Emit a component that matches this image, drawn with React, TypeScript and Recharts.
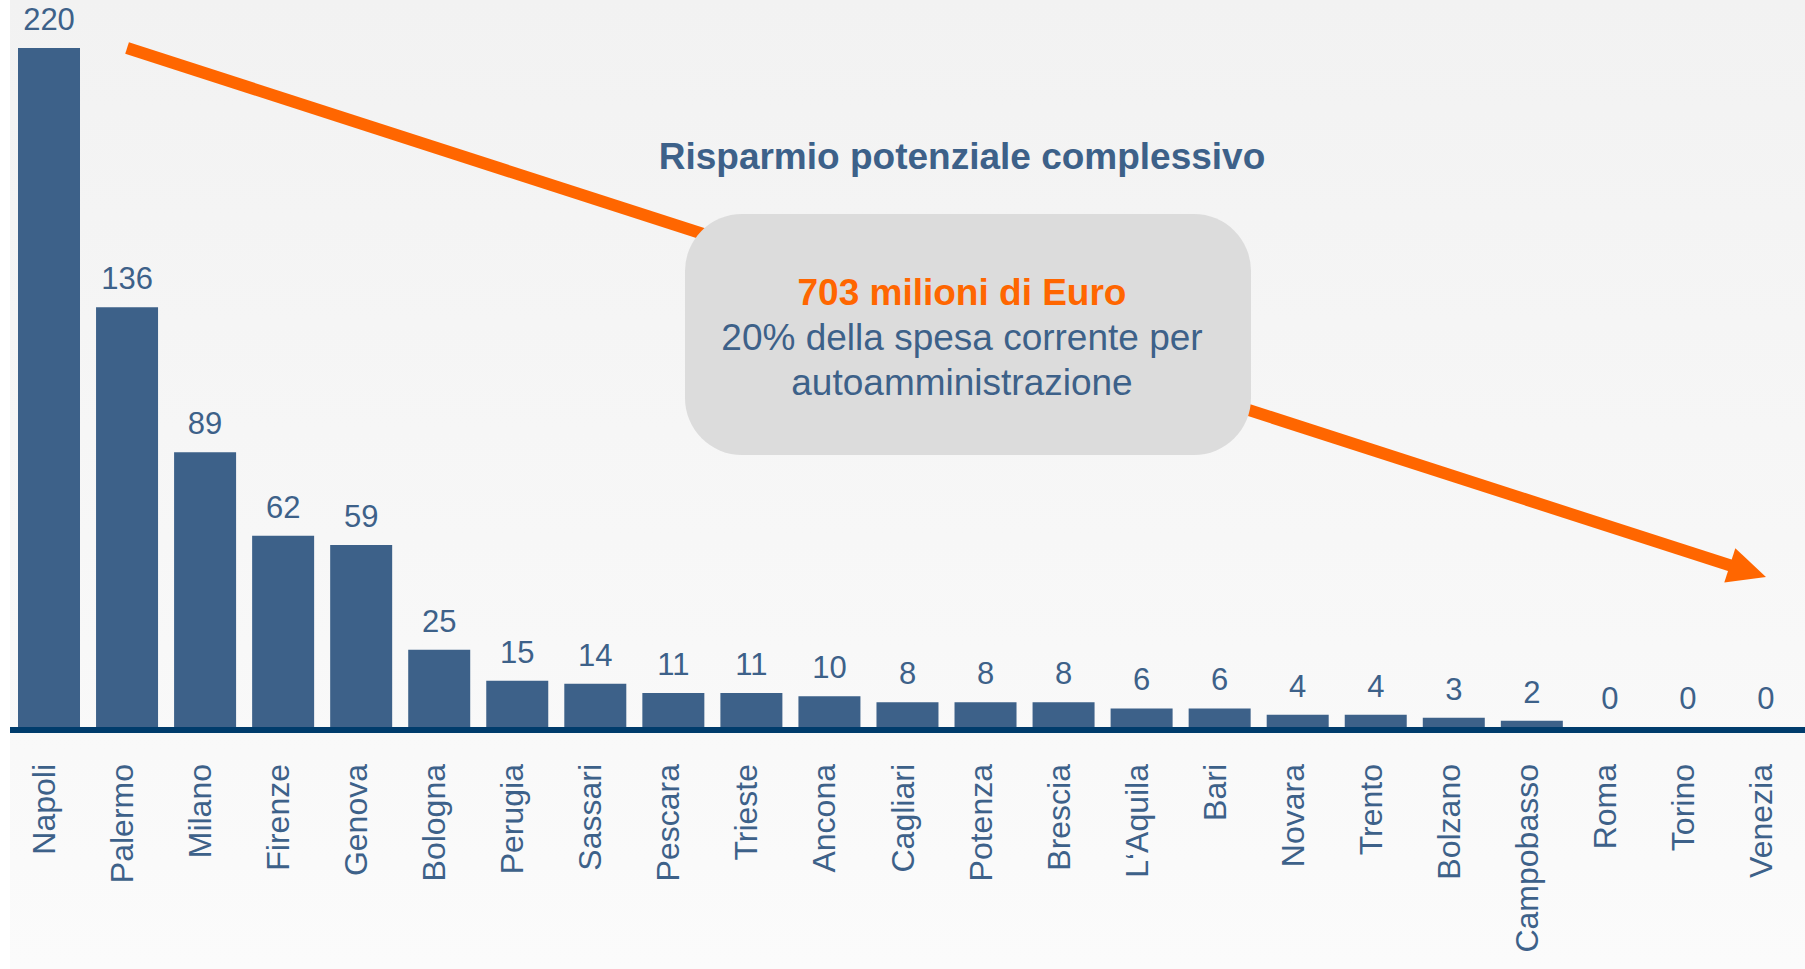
import { ComposedChart, Bar, Line, XAxis, YAxis, LabelList, ReferenceLine } from 'recharts';

const cities = [
  'Napoli', 'Palermo', 'Milano', 'Firenze', 'Genova', 'Bologna', 'Perugia', 'Sassari',
  'Pescara', 'Trieste', 'Ancona', 'Cagliari', 'Potenza', 'Brescia', 'L\u2018Aquila', 'Bari',
  'Novara', 'Trento', 'Bolzano', 'Campobasso', 'Roma', 'Torino', 'Venezia',
];
const savings = [220, 136, 89, 62, 59, 25, 15, 14, 11, 11, 10, 8, 8, 8, 6, 6, 4, 4, 3, 2, 0, 0, 0];

const title = 'Risparmio potenziale complessivo';
const totalLabel = '703 milioni di Euro';
const noteLines = ['20% della spesa corrente per', 'autoamministrazione'];

// arrow runs from the top of the scale down to the last city
const arrowFrom = { x: 'Palermo', y: 220 };
const arrowTo = { x: 'Venezia', y: 48.6 };

const data = cities.map((city, i) => ({ city, value: savings[i] }));

const blue = '#3d6189';
const navy = '#003c6c';
const orange = '#ff6600';
const font = '"Liberation Sans", Arial, sans-serif';

function CityTick({ x, y, payload }: any) {
  return (
    <text
      x={x + 6}
      y={y + 37}
      transform={`rotate(-90, ${x + 6}, ${y + 37})`}
      textAnchor="end"
      fill={blue}
      fontSize={32}
      fontFamily={font}
    >
      {payload.value}
    </text>
  );
}

function Arrow(props: any) {
  const { x1, y1, x2, y2 } = props;
  const dx = x2 - x1;
  const dy = y2 - y1;
  const len = Math.sqrt(dx * dx + dy * dy);
  const ux = dx / len;
  const uy = dy / len;
  const headLen = 38;
  const half = 18;
  const bx = x2 - ux * headLen;
  const by = y2 - uy * headLen;
  const pts = `${x2},${y2} ${bx - uy * half},${by + ux * half} ${bx + uy * half},${by - ux * half}`;
  return (
    <g>
      <line x1={x1} y1={y1} x2={bx + ux * 4} y2={by + uy * 4} stroke={orange} strokeWidth={12} />
      <polygon points={pts} fill={orange} />
    </g>
  );
}

export default function App() {
  return (
    <div
      style={{
        position: 'absolute',
        left: 0,
        top: 0,
        width: 1805,
        height: 969,
        background: '#ffffff',
        fontFamily: font,
      }}
    >
      <div
        style={{
          position: 'absolute',
          left: 10,
          top: 0,
          width: 1795,
          height: 969,
          background: 'linear-gradient(#f2f2f2, #fbfbfb)',
        }}
      />
      <div style={{ position: 'absolute', left: 0, top: 0 }}>
        <ComposedChart
          width={1805}
          height={969}
          data={data}
          margin={{ top: 48, right: 0, left: 10, bottom: 12 }}
        >
          <XAxis
            dataKey="city"
            interval={0}
            height={230}
            tickLine={false}
            tickSize={0}
            tickMargin={0}
            axisLine={{ stroke: navy, strokeWidth: 6, transform: 'translate(0,3)' }}
            tick={<CityTick />}
          />
          <YAxis hide domain={[0, 220]} />
          <ReferenceLine
            segment={[arrowFrom, arrowTo]}
            ifOverflow="visible"
            shape={(p: any) => <Arrow {...p} />}
          />
          <Bar dataKey="value" fill={blue} barSize={62} isAnimationActive={false} />
          {/* invisible series that carries the value labels, so zeros get one too */}
          <Line
            dataKey="value"
            stroke="none"
            dot={false}
            activeDot={false}
            legendType="none"
            isAnimationActive={false}
          >
            <LabelList
              dataKey="value"
              position="top"
              offset={18}
              fill={blue}
              fontSize={31}
              fontFamily={font}
            />
          </Line>
        </ComposedChart>
      </div>
      <div
        style={{
          position: 'absolute',
          left: 600,
          top: 134,
          width: 724,
          textAlign: 'center',
          color: blue,
          fontWeight: 'bold',
          fontSize: 37,
          lineHeight: '46px',
        }}
      >
        {title}
      </div>
      <div
        style={{
          position: 'absolute',
          left: 685,
          top: 214,
          width: 566,
          height: 241,
          borderRadius: 57,
          background: '#dcdcdc',
          display: 'flex',
          flexDirection: 'column',
          justifyContent: 'center',
          alignItems: 'center',
          boxSizing: 'border-box',
          paddingTop: 5,
          paddingRight: 12,
          fontSize: 37,
          lineHeight: '45px',
          color: blue,
          textAlign: 'center',
        }}
      >
        <div style={{ color: orange, fontWeight: 'bold' }}>{totalLabel}</div>
        {noteLines.map((l) => (
          <div key={l}>{l}</div>
        ))}
      </div>
    </div>
  );
}
